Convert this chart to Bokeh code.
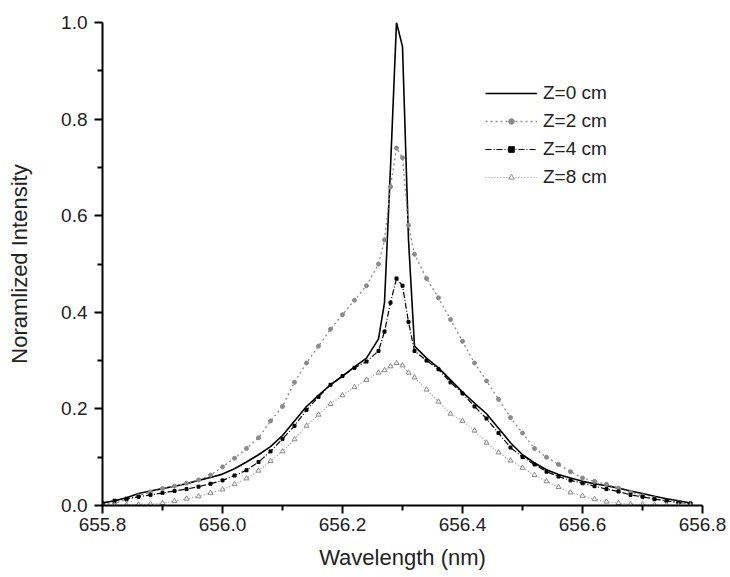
from bokeh.plotting import figure
from bokeh.models import Range1d, FixedTicker, PrintfTickFormatter, Legend, LegendItem
from bokeh.embed import file_html
from bokeh.resources import INLINE

wavelength = [655.80, 655.82, 655.84, 655.86, 655.88, 655.90, 655.92, 655.94, 655.96, 655.98,
              656.00, 656.02, 656.04, 656.06, 656.08, 656.10, 656.12, 656.14, 656.16, 656.18,
              656.20, 656.22, 656.24, 656.26, 656.27, 656.28, 656.29, 656.30, 656.31,
              656.32, 656.34, 656.36, 656.38, 656.40, 656.42, 656.44, 656.46, 656.48, 656.50,
              656.52, 656.54, 656.56, 656.58, 656.60, 656.62, 656.64, 656.66, 656.68, 656.70,
              656.72, 656.74, 656.76, 656.78]

z0 = [0.005, 0.010, 0.016, 0.025, 0.030, 0.035, 0.040, 0.045, 0.052, 0.058,
      0.065, 0.076, 0.090, 0.105, 0.122, 0.145, 0.175, 0.205, 0.228, 0.250,
      0.268, 0.287, 0.305, 0.345, 0.42, 0.70, 1.00, 0.95, 0.55,
      0.33, 0.305, 0.285, 0.260, 0.235, 0.212, 0.190, 0.160, 0.130, 0.105,
      0.088, 0.074, 0.064, 0.057, 0.050, 0.045, 0.041, 0.036, 0.030, 0.025,
      0.019, 0.014, 0.010, 0.005]

z2 = [0.002, 0.005, 0.012, 0.020, 0.028, 0.035, 0.040, 0.046, 0.053, 0.063,
      0.080, 0.098, 0.118, 0.140, 0.175, 0.205, 0.255, 0.295, 0.330, 0.365,
      0.395, 0.425, 0.455, 0.500, 0.550, 0.660, 0.740, 0.720, 0.580,
      0.520, 0.470, 0.430, 0.385, 0.340, 0.295, 0.258, 0.220, 0.182, 0.150,
      0.118, 0.100, 0.085, 0.070, 0.057, 0.050, 0.044, 0.036, 0.027, 0.020,
      0.014, 0.009, 0.006, 0.004]

z4 = [0.005, 0.010, 0.014, 0.018, 0.022, 0.026, 0.030, 0.034, 0.039, 0.045,
      0.052, 0.062, 0.073, 0.090, 0.112, 0.138, 0.165, 0.198, 0.225, 0.250,
      0.268, 0.285, 0.298, 0.320, 0.360, 0.420, 0.470, 0.455, 0.380,
      0.320, 0.300, 0.282, 0.255, 0.232, 0.205, 0.180, 0.150, 0.120, 0.100,
      0.085, 0.070, 0.060, 0.052, 0.046, 0.040, 0.034, 0.029, 0.022, 0.018,
      0.013, 0.010, 0.006, 0.004]

z8 = [0.000, 0.000, 0.001, 0.002, 0.003, 0.005, 0.009, 0.014, 0.019, 0.026,
      0.033, 0.044, 0.056, 0.072, 0.092, 0.112, 0.137, 0.165, 0.188, 0.210,
      0.228, 0.245, 0.260, 0.275, 0.280, 0.288, 0.295, 0.290, 0.275,
      0.265, 0.240, 0.215, 0.190, 0.175, 0.155, 0.130, 0.110, 0.093, 0.078,
      0.063, 0.050, 0.038, 0.027, 0.020, 0.013, 0.008, 0.005, 0.003, 0.002,
      0.001, 0.001, 0.000, 0.000]

labels = ["Z=0 cm", "Z=2 cm", "Z=4 cm", "Z=8 cm"]
x_major_ticks = [655.8, 656.0, 656.2, 656.4, 656.6, 656.8]
x_minor_ticks = [655.9, 656.1, 656.3, 656.5, 656.7]
y_major_ticks = [0.0, 0.2, 0.4, 0.6, 0.8, 1.0]
y_minor_ticks = [0.1, 0.3, 0.5, 0.7, 0.9]

FONT = "Liberation Sans"

p = figure(width=730, height=577, output_backend="svg", toolbar_location=None,
           x_range=Range1d(655.8, 656.8), y_range=Range1d(0, 1.0),
           min_border_left=102, min_border_right=28, min_border_top=22, min_border_bottom=72)
p.outline_line_color = None
p.xgrid.visible = False
p.ygrid.visible = False
p.background_fill_color = "white"
p.border_fill_color = "white"

# series
r0 = p.line(wavelength, z0, line_color="black", line_width=1.6)

l2 = p.line(wavelength, z2, line_color="#8a8a8a", line_width=1.3, line_dash="2 3")
s2 = p.scatter(wavelength, z2, marker="circle", size=4, fill_color="#8a8a8a", line_color="#8a8a8a")

l4 = p.line(wavelength, z4, line_color="black", line_width=1.2, line_dash="6 2 1 2")
s4 = p.scatter(wavelength, z4, marker="square", size=3, fill_color="black", line_color="black")

l8 = p.line(wavelength, z8, line_color="#9a9a9a", line_width=1.2, line_dash="1 2")
s8 = p.scatter(wavelength, z8, marker="triangle", size=5, fill_color="white", line_color="#8a8a8a", line_width=1)

# axes
for ax, majors, minors in ((p.xaxis[0], x_major_ticks, x_minor_ticks),
                           (p.yaxis[0], y_major_ticks, y_minor_ticks)):
    ax.ticker = FixedTicker(ticks=majors, minor_ticks=minors)
    ax.formatter = PrintfTickFormatter(format="%.1f")
    ax.axis_line_width = 2
    ax.axis_line_color = "black"
    ax.major_tick_line_width = 2
    ax.minor_tick_line_width = 2
    ax.major_tick_in = 0
    ax.major_tick_out = 8
    ax.minor_tick_in = 0
    ax.minor_tick_out = 5
    ax.major_label_text_font = FONT
    ax.major_label_text_font_size = "19px"
    ax.major_label_text_color = "#222222"
    ax.axis_label_text_font = FONT
    ax.axis_label_text_font_size = "22px"
    ax.axis_label_text_font_style = "normal"
    ax.axis_label_text_color = "#222222"

p.xaxis.axis_label = "Wavelength (nm)"
p.yaxis.axis_label = "Noramlized Intensity"
p.xaxis.major_label_standoff = 4
p.xaxis.axis_label_standoff = 11
p.yaxis.major_label_standoff = 7
p.yaxis.axis_label_standoff = 26

legend = Legend(items=[
    LegendItem(label=labels[0], renderers=[r0]),
    LegendItem(label=labels[1], renderers=[l2, s2]),
    LegendItem(label=labels[2], renderers=[l4, s4]),
    LegendItem(label=labels[3], renderers=[l8, s8]),
], location=(383, 317), border_line_color=None, background_fill_alpha=0,
    padding=0, margin=0, spacing=6, glyph_width=52, glyph_height=14,
    label_height=22, label_standoff=6,
    label_text_font=FONT, label_text_font_size="19px", label_text_color="#222222")
p.add_layout(legend)

open("out.html", "w").write(file_html(p, INLINE))
